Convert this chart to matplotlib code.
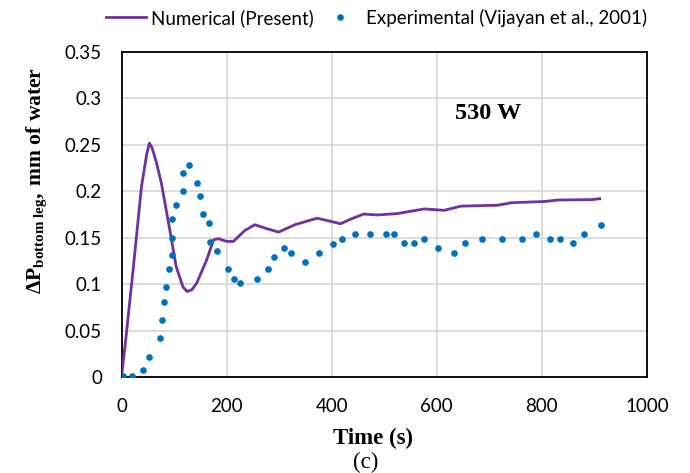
import matplotlib
matplotlib.use("Agg")
import matplotlib.pyplot as plt
from matplotlib.lines import Line2D

plt.rcParams['mathtext.fontset'] = 'custom'
plt.rcParams['mathtext.rm'] = 'Liberation Serif'
plt.rcParams['mathtext.bf'] = 'Liberation Serif:bold'
plt.rcParams['mathtext.it'] = 'Liberation Serif:italic'

# Numerical (Present)
num_t = [0, 8, 22, 38, 48, 53, 58, 66, 76, 92, 104, 117, 125, 134, 143, 162,
         175, 184, 200, 213, 235, 254, 275, 299, 330, 372, 395, 417, 436, 461,
         487, 525, 576, 614, 646, 716, 742, 805, 831, 895, 910]
num_v = [0.0, 0.04, 0.115, 0.205, 0.24, 0.252, 0.247, 0.232, 0.2085, 0.158,
         0.119, 0.097, 0.092, 0.094, 0.101, 0.126, 0.1475, 0.149, 0.146, 0.146,
         0.158, 0.164, 0.16, 0.156, 0.164, 0.171, 0.168, 0.165, 0.170, 0.1755,
         0.1745, 0.176, 0.181, 0.1795, 0.184, 0.185, 0.1877, 0.189, 0.1906,
         0.191, 0.192]

# Experimental (Vijayan et al., 2001)
exp_t = [2, 20, 41, 53, 74, 78, 80, 85, 90, 96, 96, 96, 103, 117, 117, 129, 144,
         149, 155, 167, 168, 182, 202, 214, 226, 257, 279, 291, 310, 322, 350,
         375, 402, 420, 445, 472, 504, 519, 537, 557, 575, 602, 633, 654, 686,
         724, 762, 789, 815, 835, 859, 880, 912]
exp_v = [0.001, 0.001, 0.0075, 0.022, 0.0415, 0.061, 0.081, 0.0965, 0.116, 0.131,
         0.150, 0.170, 0.185, 0.200, 0.220, 0.228, 0.2085, 0.195, 0.1755, 0.1655,
         0.1457, 0.1357, 0.116, 0.106, 0.1008, 0.106, 0.116, 0.1296, 0.139, 0.134,
         0.124, 0.134, 0.1436, 0.149, 0.154, 0.154, 0.154, 0.154, 0.144, 0.144,
         0.149, 0.139, 0.134, 0.144, 0.149, 0.149, 0.149, 0.154, 0.149, 0.149,
         0.144, 0.154, 0.1637]

x_ticks = [0, 200, 400, 600, 800, 1000]
y_ticks = [0, 0.05, 0.1, 0.15, 0.2, 0.25, 0.3, 0.35]
y_tick_labels = ['0', '0.05', '0.1', '0.15', '0.2', '0.25', '0.3', '0.35']

line_color = '#7030A0'
dot_color = '#0070C0'
tick_font = 'Lato'

fig = plt.figure(figsize=(6.9, 4.73), dpi=100)
ax = fig.add_axes([121.5/690, 1-377/473, 525.5/690, 325/473])

ax.plot(num_t, num_v, color=line_color, lw=2.0, zorder=3)
ax.plot(exp_t, exp_v, linestyle='none', marker='o', markersize=4.8,
        color=dot_color, markeredgewidth=0, zorder=4)

ax.set_xlim(0, 1000)
ax.set_ylim(0, 0.35)
ax.set_xticks(x_ticks)
ax.set_xticklabels([str(v) for v in x_ticks], fontsize=13.5, family=tick_font)
ax.set_yticks(y_ticks)
ax.set_yticklabels(y_tick_labels, fontsize=13.5, family=tick_font)
ax.tick_params(axis='y', length=0, pad=14)
ax.tick_params(axis='x', length=0, pad=15)
ax.grid(True, color='#d9d9d9', lw=1.3)
ax.set_axisbelow(True)
for s in ax.spines.values():
    s.set_color('black')
    s.set_linewidth(1.3)

fig.text(455/690, 1-113/473, '530 W', fontsize=17.5, fontweight='bold',
         family='Liberation Serif', ha='left', va='center')

fig.text(373/690, 1-438/473, 'Time (s)', fontsize=16.5, fontweight='bold',
         family='Liberation Serif', ha='center', va='center')
fig.text(366/690, 1-462/473, '(c)', fontsize=16.5,
         family='Liberation Serif', ha='center', va='center')
fig.text(37/690, 1-180/473,
         r'$\mathbf{\Delta P}_{\mathbf{bottom\ leg}}\mathbf{,\ mm\ of\ water}$',
         fontsize=15.5, rotation=90, ha='center', va='center')

handles = [Line2D([0], [0], color=line_color, lw=2.0),
           Line2D([0], [0], linestyle='none', marker='o', markersize=4.8,
                  color=dot_color, markeredgewidth=0)]
fig.legend(handles, ['Numerical (Present)', 'Experimental (Vijayan et al., 2001)'],
           loc='center', bbox_to_anchor=(376.5/690, 1-18/473), ncol=2, frameon=False,
           prop={'family': tick_font, 'size': 13.5}, handlelength=2.1,
           handletextpad=0.3, columnspacing=0.35)

fig.savefig('out.png', dpi=100)
